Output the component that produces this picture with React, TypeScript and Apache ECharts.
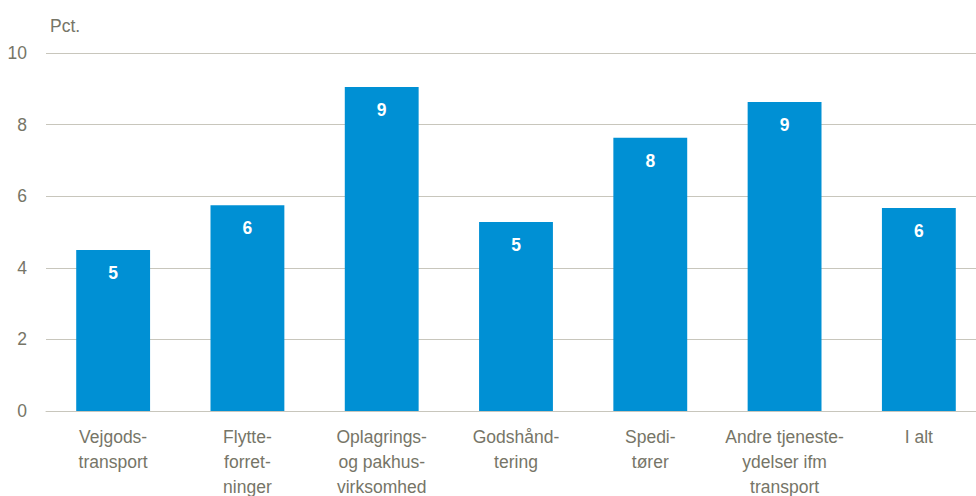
import React, { useEffect, useRef } from "react";
import * as echarts from "echarts";

const categories = [
  "Vejgods-\ntransport",
  "Flytte-\nforret-\nninger",
  "Oplagrings-\nog pakhus-\nvirksomhed",
  "Godshånd-\ntering",
  "Spedi-\ntører",
  "Andre tjeneste-\nydelser ifm\ntransport",
  "I alt",
];
const values = [4.5, 5.75, 9.05, 5.28, 7.63, 8.63, 5.67];
const yTicks = { min: 0, max: 10, interval: 2 };
const unitLabel = "Pct.";

export default function App() {
  const ref = useRef<HTMLDivElement>(null);
  useEffect(() => {
    if (!ref.current) return;
    const chart = echarts.init(ref.current, undefined, { renderer: "svg" });
    const textColor = "#767567";
    const font = "'Liberation Sans', Arial, sans-serif";
    const fs = 17.5;
    chart.setOption({
      animation: false,
      graphic: [
        {
          type: "text",
          left: 50,
          top: 17,
          style: { text: unitLabel, fill: textColor, font: `${fs}px ${font}` },
        },
      ],
      grid: {
        left: 46,
        width: 940,
        top: 53,
        height: 358,
        containLabel: false,
        outerBoundsMode: "none",
      },
      xAxis: {
        type: "category",
        data: categories,
        axisTick: { show: false },
        axisLine: { show: true, lineStyle: { color: "#C8C6BC", width: 1 } },
        axisLabel: {
          color: textColor,
          fontSize: fs,
          fontFamily: font,
          lineHeight: 25,
          margin: 13,
          interval: 0,
        },
      },
      yAxis: {
        type: "value",
        min: yTicks.min,
        max: yTicks.max,
        interval: yTicks.interval,
        axisLine: { show: false },
        axisTick: { show: false },
        splitLine: { lineStyle: { color: "#C8C6BC", width: 1 } },
        axisLabel: {
          color: textColor,
          fontSize: fs,
          fontFamily: font,
          margin: 19,
        },
      },
      series: [
        {
          type: "bar",
          data: values,
          barCategoryGap: "45%",
          itemStyle: { color: "#0090D4" },
          label: {
            show: true,
            position: "insideTop",
            distance: 14,
            color: "#ffffff",
            fontWeight: "bold",
            fontSize: fs,
            fontFamily: font,
            formatter: (p: any) => String(Math.round(p.value)),
          },
        },
      ],
    });
    return () => chart.dispose();
  }, []);
  return <div ref={ref} style={{ width: 976, height: 496, position: "absolute", left: 0, top: 0 }} />;
}
